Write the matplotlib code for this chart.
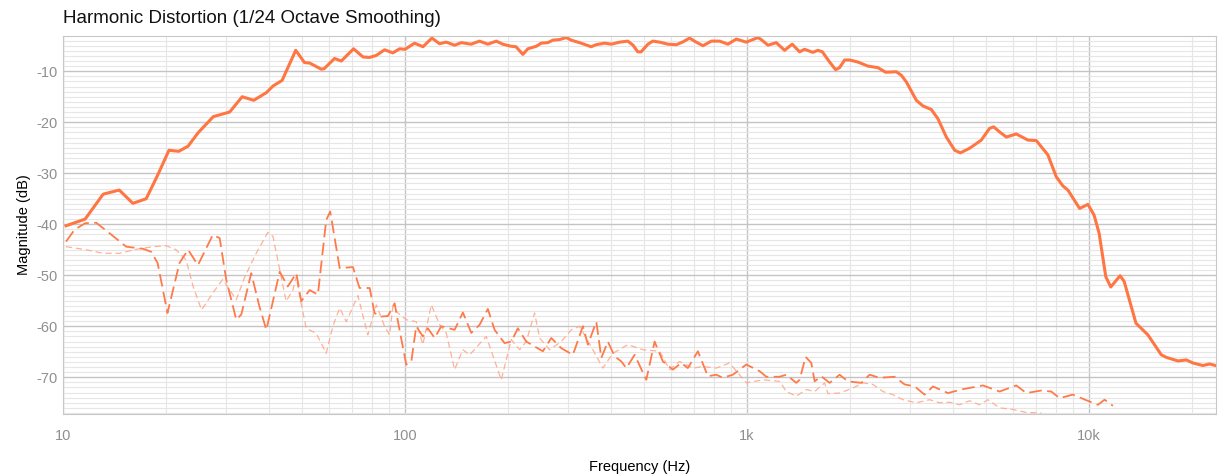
import matplotlib.pyplot as plt
import numpy as np
from matplotlib.ticker import FixedLocator, MultipleLocator, FuncFormatter

plt.rcParams['font.family'] = ['Liberation Sans', 'DejaVu Sans']
plt.rcParams['axes.unicode_minus'] = False

# fundamental (solid)
f_fund = [10.2, 11.6, 13.1, 14.6, 16.0, 17.5, 18.9, 20.4, 21.8, 23.2, 24.8, 27.5, 30.7, 33.4,
          36.1, 39.3, 41.1, 43.7, 46.5, 47.9, 50.8, 52.6, 56.9, 58, 62.2, 65.1, 70.7, 75.3,
          78.7, 82.4, 87.1, 92.1, 96.4, 100, 106.6, 112.8, 119.8, 126.1, 132, 139.6, 146,
          156, 165, 174.6, 184.8, 193, 204, 211, 221, 228.6, 242, 250, 261.5, 270.6, 283,
          296, 306, 327, 350, 362, 383, 401, 424, 448, 464, 479, 490, 513, 530, 555, 587,
          621, 647, 679, 710, 743, 786, 831, 879, 930, 995, 1040, 1076, 1100, 1151, 1217,
          1287, 1355, 1424, 1472, 1557, 1611, 1660, 1743, 1815, 1864, 1928, 1994, 2109,
          2256, 2413, 2541, 2731, 2825, 2922, 3125, 3266, 3456, 3613, 3824, 4046, 4204,
          4474, 4840, 5117, 5259, 5473, 5727, 6124, 6622, 7009, 7576, 8017, 8384, 8670,
          9380, 9920, 10340, 10700, 11190, 11570, 12320, 12660, 13710, 14490, 14860,
          16260, 16820, 18190, 19240, 20120, 21520, 22500, 23440]
db_fund = [-40.3, -39.0, -34.1, -33.3, -35.9, -35.0, -30.4, -25.5, -25.7, -24.7, -22.1, -18.9,
           -18.0, -15.0, -15.7, -14.2, -12.9, -11.8, -7.8, -5.9, -8.3, -8.4, -9.6, -9.5, -7.5,
           -8.0, -5.6, -7.2, -7.3, -6.9, -5.8, -6.4, -5.6, -5.7, -4.5, -5.2, -3.5, -4.6, -4.3,
           -4.9, -4.4, -4.7, -4.1, -4.7, -4.1, -4.7, -5.1, -5.2, -6.7, -5.6, -5.1, -4.5, -4.4,
           -3.9, -3.8, -3.4, -3.9, -4.5, -5.2, -4.8, -4.5, -4.7, -4.3, -4.1, -4.9, -6.2, -6.2,
           -4.7, -4.1, -4.3, -4.7, -4.8, -4.3, -3.5, -4.3, -5.0, -4.1, -4.1, -4.7, -3.7, -4.3,
           -3.8, -3.4, -3.8, -4.9, -4.4, -5.9, -4.7, -6.2, -5.7, -6.3, -5.9, -6.2, -8.2, -9.7,
           -9.3, -7.8, -7.8, -8.2, -9.0, -9.3, -10.2, -10.1, -10.8, -12.1, -15.7, -16.8,
           -17.5, -19.3, -22.9, -25.5, -26.0, -25.1, -23.5, -21.2, -20.9, -21.9, -22.9,
           -22.3, -23.5, -23.6, -26.4, -30.7, -32.5, -33.3, -36.9, -36.1, -38.2, -41.8,
           -50.3, -52.3, -50.1, -51.2, -59.4, -61.0, -61.7, -65.6, -66.1, -66.8, -66.6,
           -67.2, -67.7, -67.4, -67.7]

# 2nd harmonic (dashed)
f_h2 = [10.2, 10.8, 11.6, 12.5, 13.7, 15.3, 17.1, 18.1, 18.9, 20.2, 21.9, 23.2, 24.8, 27.4,
        28.7, 30.0, 32.1, 33.2, 35.5, 37.5, 39.3, 43.0, 45.4, 48.1, 49.7, 52.6, 55.6, 58.8,
        60.4, 64.4, 70.4, 73.6, 78.8, 81.4, 85.2, 89.1, 93.2, 95.9, 100.8, 104.3, 107.8,
        112.7, 116.6, 122.0, 127.6, 139.6, 147.6, 156.2, 165.2, 174.6, 182.7, 195.4, 204.4,
        213.7, 226.1, 252.8, 267.6, 286.2, 309.5, 331.1, 342.4, 362.4, 374.8, 391.7, 410,
        428.9, 443.6, 469.1, 507.4, 536.5, 567.4, 606.7, 641.9, 671.1, 718, 768, 812.6,
        849.6, 908.8, 994.7, 1088, 1138, 1245, 1302, 1393, 1424, 1483, 1541, 1576, 1648,
        1743, 1864, 1971, 2158, 2281, 2440, 2700, 2887, 3090, 3304, 3494, 3865, 4230, 4893,
        5474, 6124, 6552, 7248, 7752, 8199, 8967, 9812, 10610, 11100, 11740]
db_h2 = [-43.4, -41.1, -39.8, -39.7, -41.8, -44.4, -44.8, -45.4, -47.6, -57.4, -47.6, -45.0,
         -48.0, -42.1, -42.7, -50.9, -58.7, -57.7, -49.6, -56.1, -60.7, -49.3, -52.2, -49.6,
         -55.1, -52.9, -53.8, -39.2, -37.5, -48.6, -48.4, -52.5, -52.5, -57.4, -58.1, -58.0,
         -55.5, -60.0, -67.5, -66.9, -60.0, -62.0, -60.4, -62.3, -60.0, -60.7, -57.3, -61.3,
         -59.7, -56.6, -60.7, -63.3, -63.0, -60.4, -63.0, -64.9, -62.3, -64.3, -65.6, -60.0,
         -63.6, -59.1, -66.2, -63.0, -65.9, -66.9, -68.2, -65.6, -70.5, -63.0, -66.9, -68.5,
         -67.2, -68.2, -64.9, -69.8, -69.5, -70.1, -69.5, -67.5, -68.8, -69.9, -69.9, -69.5,
         -71.1, -70.5, -66.0, -67.2, -70.8, -69.8, -71.1, -69.5, -70.8, -71.1, -69.5, -70.1,
         -69.9, -71.4, -71.8, -73.4, -71.8, -73.1, -72.4, -71.6, -72.8, -71.6, -73.1, -72.6,
         -72.8, -74.1, -73.4, -74.5, -75.4, -74.4, -75.6]

# 3rd harmonic (light dashed)
f_h3 = [10.2, 11.7, 13.1, 14.6, 16.4, 18.3, 20.0, 21.4, 22.9, 24.0, 25.4, 27.4, 29.3, 30.7,
        32.1, 34.0, 36.7, 39.7, 41.1, 43.0, 44.9, 47.0, 48.1, 49.2, 51.4, 55.0, 58.8, 61.5,
        64.4, 67.3, 72.8, 77.8, 82.4, 87.1, 90.1, 92.1, 95.3, 100.8, 107.8, 112.7, 119.3,
        126.2, 131.9, 139.6, 147.6, 154.4, 172.7, 191.1, 204.4, 216.2, 226.1, 239.2, 247.4,
        264.6, 286.2, 306.2, 323.7, 354.1, 378.8, 405.3, 448.2, 495.9, 554.8, 593.4, 634.7,
        694.2, 742.7, 812.6, 888.7, 994.7, 1113, 1245, 1302, 1393, 1490, 1576, 1685, 1723,
        1864, 2039, 2181, 2333, 2496, 2669, 2855, 3125, 3417, 3655, 3909, 4181, 4473, 4784,
        5058, 5474, 5985, 6552, 7248]
db_h3 = [-44.4, -45.0, -45.7, -45.7, -44.9, -44.4, -44.2, -45.0, -47.0, -52.2, -56.8, -53.5,
         -50.8, -52.9, -54.8, -50.3, -45.7, -41.6, -42.4, -48.9, -55.1, -52.9, -50.3, -54.2,
         -60.4, -61.4, -65.3, -60.0, -56.4, -59.1, -54.0, -61.7, -55.8, -60.0, -61.7, -56.1,
         -57.4, -58.7, -59.1, -63.6, -55.8, -59.7, -61.3, -68.5, -64.6, -65.6, -62.0, -70.5,
         -62.6, -64.6, -63.0, -57.4, -62.3, -64.6, -63.0, -60.7, -60.0, -64.6, -68.2, -65.3,
         -63.6, -64.6, -64.9, -68.5, -66.9, -68.2, -67.9, -68.2, -67.2, -71.1, -70.5, -70.8,
         -72.8, -73.7, -72.4, -72.8, -71.1, -73.2, -73.1, -72.1, -71.1, -71.4, -72.8, -73.4,
         -74.4, -75.0, -74.4, -75.0, -74.9, -75.4, -74.6, -75.4, -74.4, -76.0, -76.3, -76.9,
         -77.0]

decades = [10, 100, 1000, 10000]
decade_labels = ['10', '100', '1k', '10k']

fig = plt.figure(figsize=(12.22, 4.74), dpi=100)
ax = fig.add_axes([0.0516, 0.1266, 0.9435, 0.7974])

ax.plot(f_h3, db_h3, color='#ffa98a', lw=0.9, dashes=(5, 3), alpha=0.9)
ax.plot(f_h2, db_h2, color='#ff7a4a', lw=1.3, dashes=(7, 3))
ax.plot(f_fund, db_fund, color='#ff7643', lw=2.2, solid_joinstyle='round')

ax.set_xscale('log')
ax.set_xlim(10, 23500)
ax.set_ylim(-77.2, -3.1)

ax.xaxis.set_major_locator(FixedLocator(decades))
ax.xaxis.set_major_formatter(FuncFormatter(lambda v, p: decade_labels[decades.index(v)] if v in decades else ''))
minor_x = [m * d for d in decades for m in range(2, 10)]
ax.xaxis.set_minor_locator(FixedLocator(minor_x))
ax.xaxis.set_minor_formatter(FuncFormatter(lambda v, p: ''))
ax.yaxis.set_major_locator(MultipleLocator(10))
ax.yaxis.set_minor_locator(MultipleLocator(1))

ax.grid(which='major', color='#c4c4c4', lw=1.0)
ax.grid(which='minor', color='#e6e6e6', lw=0.8)
ax.set_axisbelow(True)
for s in ax.spines.values():
    s.set_color('#c8c8c8')
ax.tick_params(which='both', length=0, colors='#8f8f8f', labelsize=10.5)
ax.tick_params(axis='x', pad=11)
ax.tick_params(axis='y', pad=4)

ax.set_xlabel('Frequency (Hz)', fontsize=10.5, labelpad=12)
ax.set_ylabel('Magnitude (dB)', fontsize=10.5, labelpad=4)

fig.text(0.0516, 0.962, 'Harmonic Distortion (1/24 Octave Smoothing)', fontsize=13.5,
         color='#111111', va='center')

plt.savefig('out.png', dpi=100)
